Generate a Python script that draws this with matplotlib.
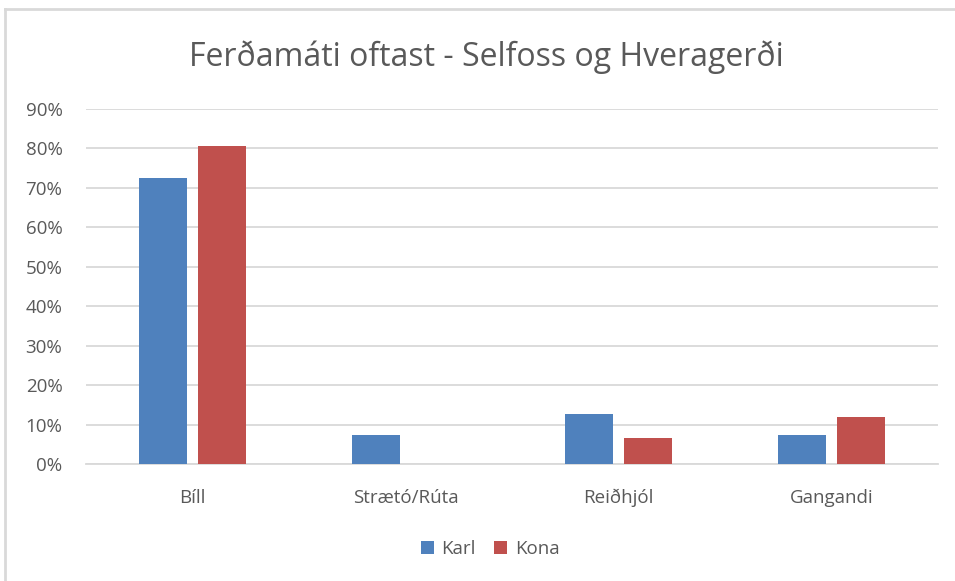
import numpy as np
from matplotlib import pyplot as plt
from matplotlib.lines import Line2D
from matplotlib.ticker import PercentFormatter

categories = ['Bíll', 'Strætó/Rúta', 'Reiðhjól', 'Gangandi']
karl = [72.4, 7.3, 12.6, 7.3]
kona = [80.7, 0.0, 6.7, 11.9]

KARL_COLOR = '#4F81BD'
KONA_COLOR = '#C0504D'
TEXT_COLOR = '#595959'
GRID_COLOR = '#D9D9D9'

plt.rcParams['font.family'] = ['Open Sans', 'DejaVu Sans']

W, H = 955, 581
fig = plt.figure(figsize=(W / 100, H / 100), dpi=100)
ax = fig.add_axes([86 / W, 1 - 464 / H, (938 - 86) / W, (464 - 109) / H])

x = np.arange(len(categories))
width = 0.225
ax.bar(x - 0.14, karl, width, color=KARL_COLOR, label='Karl', zorder=3)
ax.bar(x + 0.14, kona, width, color=KONA_COLOR, label='Kona', zorder=3)

ax.set_xlim(-0.5, len(categories) - 0.5)
ax.set_ylim(0, 90)
ax.set_yticks(np.arange(0, 91, 10))
ax.yaxis.set_major_formatter(PercentFormatter(decimals=0))
ax.grid(axis='y', color=GRID_COLOR, linewidth=1.3, zorder=0)
ax.set_xticks(x)
ax.set_xticklabels(categories)

for s in ['top', 'right', 'left']:
    ax.spines[s].set_visible(False)
ax.spines['bottom'].set_color(GRID_COLOR)
ax.spines['bottom'].set_linewidth(1.3)
ax.tick_params(axis='both', length=0, colors=TEXT_COLOR, labelsize=13.5)
ax.tick_params(axis='y', pad=17)
ax.tick_params(axis='x', pad=18)

fig.text(486 / W, 1 - 57 / H, 'Ferðamáti oftast - Selfoss og Hveragerði',
         ha='center', va='center', fontsize=23, color=TEXT_COLOR)

leg = fig.legend(loc='center', bbox_to_anchor=(490 / W, 1 - 549 / H), ncol=2,
                 frameon=False, fontsize=13.5, handlelength=0.7, handleheight=0.7,
                 handletextpad=0.4, columnspacing=1.0)
for t in leg.get_texts():
    t.set_color(TEXT_COLOR)

# chart border (left and top only visible)
fig.add_artist(Line2D([5 / W, 5 / W], [0, 1 - 9 / H], transform=fig.transFigure,
                      color=GRID_COLOR, linewidth=2))
fig.add_artist(Line2D([5 / W, 1], [1 - 9 / H, 1 - 9 / H], transform=fig.transFigure,
                      color=GRID_COLOR, linewidth=2))

fig.savefig('out.png', dpi=100)
